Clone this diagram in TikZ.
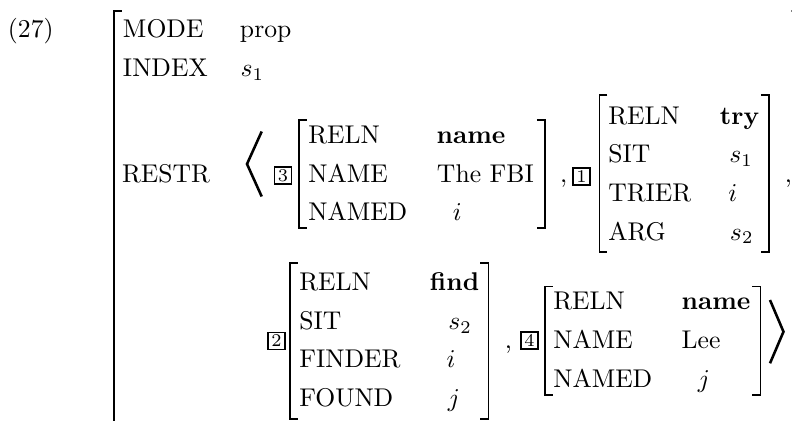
\documentclass[tikz,border=0pt]{standalone}
\begin{document}
\begin{tikzpicture}[x=0.39pt,y=-0.39pt,
  lbl/.style={anchor=base west,inner sep=0pt,outer sep=0pt},
  tagbox/.style={draw,line width=0.6pt,minimum width=6.8pt,minimum height=6.8pt,inner sep=0pt,font=\scriptsize},
  brk/.style={line width=0.75pt},
  ang/.style={line width=1pt}]
\useasboundingbox (0,0) rectangle (792,421);

% example number
\node[lbl] (num) at (8,37.7) {(27)};

% outer structure
\draw[brk] (122,10.7) -- (114.3,10.7) -- (114.3,421);
\draw[line width=0.3pt,gray] (791,10) -- (791,12);
\node[lbl] (kmode) at (123,37.7) {MODE};
\node[lbl] (vmode) at (240,37.7) {prop};
\node[lbl] (kindex) at (123,76.7) {INDEX};
\node[lbl] (vindex) at (240.5,76.7) {$s_1$};
\node[lbl] (krestr) at (122,182) {RESTR};

% list delimiters
\draw[ang] (261.7,131.5) -- (247,164) -- (261.7,196.5);
\draw[ang] (770,300) -- (783.5,331.7) -- (770,363.3);

% tags
\node[tagbox] (t3) at (283,175.5) {3};
\node[tagbox] (t1) at (581.5,176.5) {1};
\node[tagbox] (t2) at (276.5,341) {2};
\node[tagbox] (t4) at (529.5,340.5) {4};

% commas
\node[lbl] (c1) at (560,182) {,};
\node[lbl] (c2) at (785,182) {,};
\node[lbl] (c3) at (505,348.5) {,};

% name: The FBI
\draw[brk] (307,120) -- (299,120) -- (299,228) -- (307,228);
\draw[brk] (537,120) -- (545,120) -- (545,228) -- (537,228);
\node[lbl] (a1) at (308.3,143.3) {RELN};
\node[lbl] (a2) at (308.3,182) {NAME};
\node[lbl] (a3) at (308.3,220.7) {NAMED};
\node[lbl] (av1) at (436.7,143.3) {\textbf{name}};
\node[lbl] (av2) at (437,182) {The FBI};
\node[lbl] (av3) at (453,220.7) {$i$};

% try
\draw[brk] (607.5,95) -- (599.5,95) -- (599.5,252) -- (607.5,252);
\draw[brk] (761,95) -- (769,95) -- (769,252) -- (761,252);
\node[lbl] (b1) at (608.3,124) {RELN};
\node[lbl] (b2) at (608.3,162.7) {SIT};
\node[lbl] (b3) at (608.3,201.3) {TRIER};
\node[lbl] (b4) at (608.3,240) {ARG};
\node[lbl] (bv1) at (720,124) {\textbf{try}};
\node[lbl] (bv2) at (729.3,162.7) {$s_1$};
\node[lbl] (bv3) at (728.3,201.3) {$i$};
\node[lbl] (bv4) at (730,240) {$s_2$};

% find
\draw[brk] (298,263) -- (290,263) -- (290,419) -- (298,419);
\draw[brk] (480.5,263) -- (488.5,263) -- (488.5,419) -- (480.5,419);
\node[lbl] (d1) at (299.3,290.5) {RELN};
\node[lbl] (d2) at (299.3,329.2) {SIT};
\node[lbl] (d3) at (299.3,367.9) {FINDER};
\node[lbl] (d4) at (299.3,406.6) {FOUND};
\node[lbl] (dv1) at (430,290.5) {\textbf{find}};
\node[lbl] (dv2) at (448.3,329.2) {$s_2$};
\node[lbl] (dv3) at (446.7,367.9) {$i$};
\node[lbl] (dv4) at (448,406.6) {$j$};

% name: Lee
\draw[brk] (553,286.5) -- (545,286.5) -- (545,395) -- (553,395);
\draw[brk] (752.5,286.5) -- (760.5,286.5) -- (760.5,395) -- (752.5,395);
\node[lbl] (e1) at (553.3,309.8) {RELN};
\node[lbl] (e2) at (553.3,348.5) {NAME};
\node[lbl] (e3) at (553.3,387.2) {NAMED};
\node[lbl] (ev1) at (681.7,309.8) {\textbf{name}};
\node[lbl] (ev2) at (681.7,348.5) {Lee};
\node[lbl] (ev3) at (698,387.2) {$j$};
\end{tikzpicture}
\end{document}
